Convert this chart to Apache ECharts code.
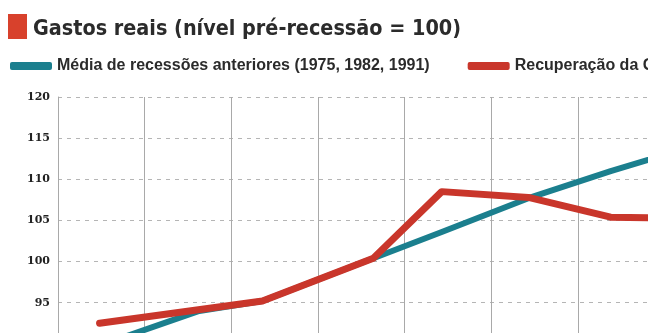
<!DOCTYPE html>
<html>
<head>
<meta charset="UTF-8">
<title>Gastos reais</title>
<script src="https://cdn.jsdelivr.net/npm/echarts@6/dist/echarts.min.js"></script>
<style>
  html, body { margin: 0; padding: 0; background: #fff; }
  #main { width: 648px; height: 333px; }
</style>
</head>
<body>
<div id="main"></div>
<script>
// dados
var seriesNames = ['Média de recessões anteriores (1975, 1982, 1991)', 'Recuperação da Grande Recessão'];
var tealX = [0.48, 1.63, 2.36, 3.64, 4.43, 5.43, 6.38, 7.4];
var tealY = [89.8, 94.0, 95.2, 100.4, 103.6, 107.7, 111.0, 114.2];
var redX = [0.48, 2.36, 3.64, 4.43, 5.43, 6.38, 7.4];
var redY = [92.5, 95.2, 100.4, 108.5, 107.8, 105.4, 105.2];
var yTicks = [85, 90, 95, 100, 105, 110, 115, 120];

function pairs(xs, ys) {
  var out = [];
  for (var i = 0; i < xs.length; i++) out.push([xs[i], ys[i]]);
  return out;
}

var chart = echarts.init(document.getElementById('main'));

var option = {
  backgroundColor: '#fff',
  animation: false,
  title: {
    text: 'Gastos reais (nível pré-recessão = 100)',
    left: 33,
    top: 19,
    padding: 0,
    textStyle: {
      fontFamily: '"Liberation Sans Narrow", "DejaVu Sans Condensed", sans-serif',
      fontWeight: 'bold',
      fontSize: 21.4,
      color: '#2b2b2b'
    }
  },
  graphic: [{
    type: 'rect',
    shape: { x: 8, y: 14, width: 19, height: 25 },
    style: { fill: '#d8412c' }
  }],
  legend: {
    left: 10,
    top: 58,
    width: 1200,
    padding: 0,
    itemGap: 38,
    itemWidth: 42,
    itemHeight: 8,
    icon: 'roundRect',
    textStyle: {
      fontFamily: '"Liberation Sans", sans-serif',
      fontWeight: 'bold',
      fontSize: 16,
      color: '#2b2b2b'
    },
    data: seriesNames
  },
  grid: {
    left: 58,
    top: 97,
    right: -103,
    bottom: -52,
    outerBoundsMode: 'none'
  },
  xAxis: {
    type: 'value',
    min: 0,
    max: 8,
    interval: 1,
    axisLine: { show: false },
    axisTick: { show: false },
    axisLabel: { show: false },
    splitLine: { show: true, lineStyle: { color: '#a9a9a9', width: 1 } }
  },
  yAxis: {
    type: 'value',
    min: yTicks[0],
    max: yTicks[yTicks.length - 1],
    interval: 5,
    axisLine: { show: true, lineStyle: { color: '#a9a9a9', width: 1 } },
    axisTick: { show: false },
    axisLabel: {
      margin: 8,
      fontFamily: '"DejaVu Serif", serif',
      fontWeight: 'bold',
      fontSize: 11,
      color: '#222'
    },
    splitLine: { show: true, lineStyle: { color: '#b5b5b5', type: [4, 5], width: 1 } }
  },
  series: [{
    name: seriesNames[0],
    type: 'line',
    data: pairs(tealX, tealY),
    symbol: 'none',
    clip: true,
    itemStyle: { color: '#1b7f8e' },
    lineStyle: { color: '#1b7f8e', width: 6, cap: 'round', join: 'round' }
  }, {
    name: seriesNames[1],
    type: 'line',
    data: pairs(redX, redY),
    symbol: 'none',
    clip: true,
    itemStyle: { color: '#c9362b' },
    lineStyle: { color: '#c9362b', width: 7, cap: 'round', join: 'round' }
  }]
};

chart.setOption(option);
</script>
</body>
</html>
